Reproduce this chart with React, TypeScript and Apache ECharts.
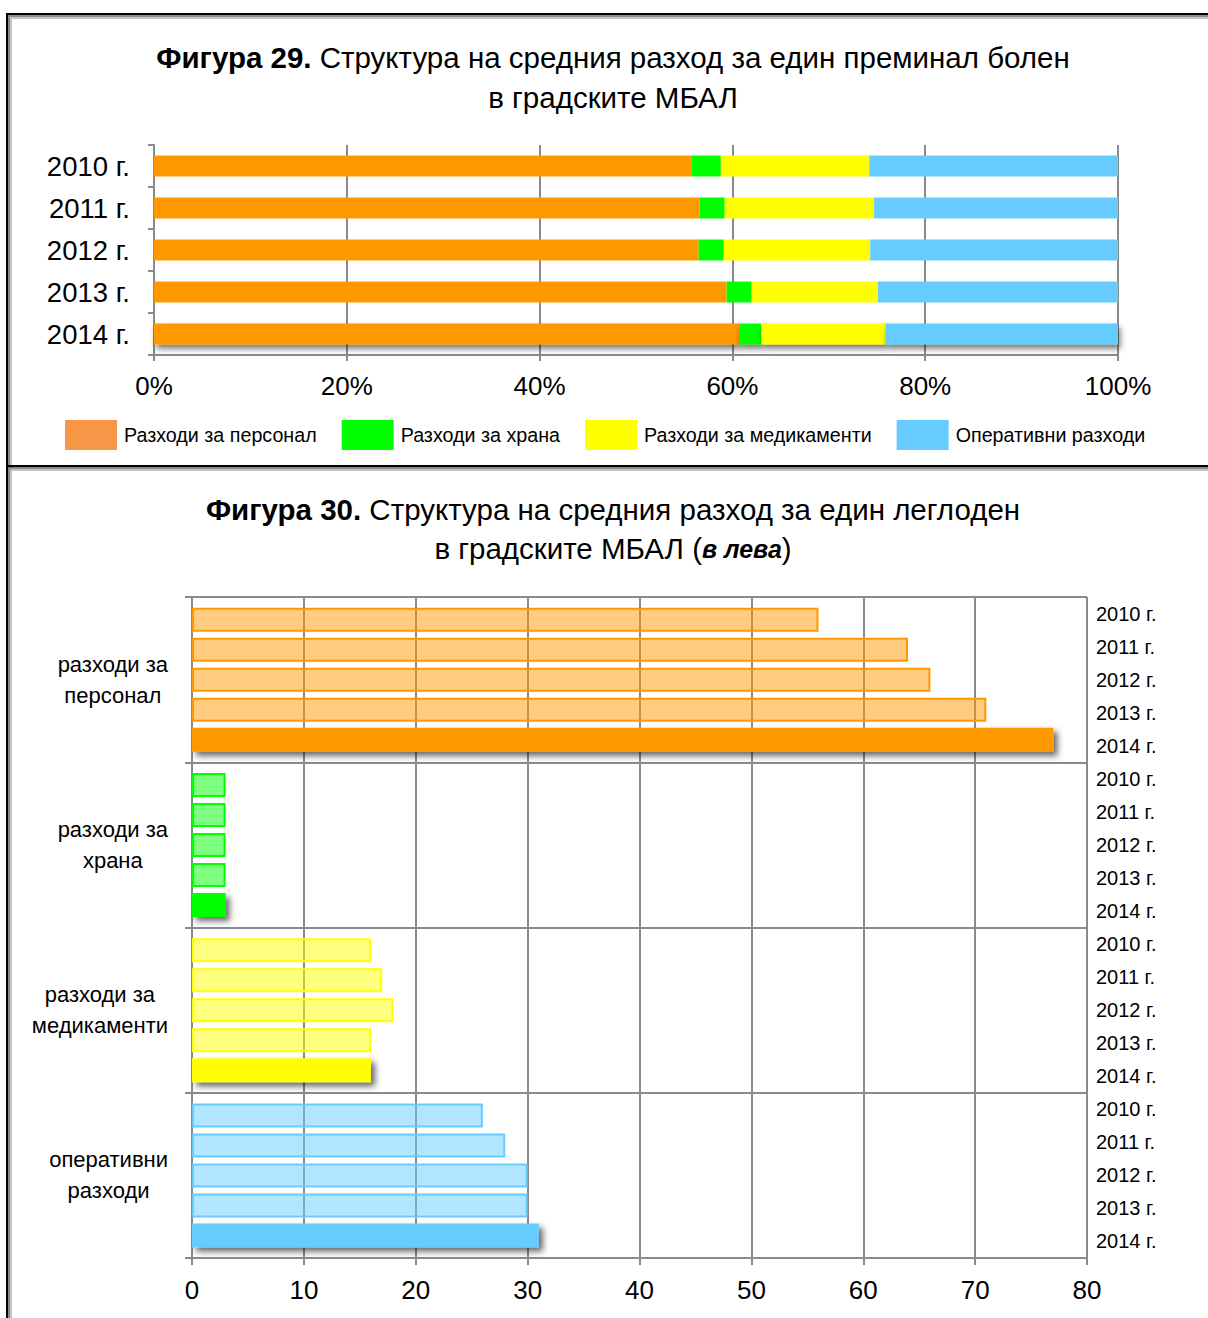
import React, { useEffect, useRef } from 'react';
import * as echarts from 'echarts';

const years = ['2010 г.', '2011 г.', '2012 г.', '2013 г.', '2014 г.'];
const shareNames = ['Разходи за персонал', 'Разходи за храна', 'Разходи за медикаменти', 'Оперативни разходи'];
const sharePersonnel = [55.8, 56.6, 56.5, 59.4, 60.7];
const shareFood = [3.0, 2.6, 2.6, 2.6, 2.3];
const shareMeds = [15.4, 15.5, 15.2, 13.1, 12.9];
const shareOperative = [25.8, 25.3, 25.7, 24.9, 24.1];

const costCategories = ['разходи за\nперсонал', 'разходи за\nхрана', 'разходи за\nмедикаменти', 'оперативни\nразходи'];
const cost2010 = [56, 3, 16, 26];
const cost2011 = [64, 3, 17, 28];
const cost2012 = [66, 3, 18, 30];
const cost2013 = [71, 3, 16, 30];
const cost2014 = [77, 3, 16, 31];

const fullColors = ['#FF9900', '#00FF00', '#FFFF00', '#66CCFF'];
const lightColors = ['rgba(255,153,0,0.5)', 'rgba(0,255,0,0.5)', 'rgba(255,255,0,0.5)', 'rgba(102,204,255,0.5)'];
const legendColors = ['#F79646', '#00FF00', '#FFFF00', '#66CCFF'];

const FONT = 'Arial, "Liberation Sans", sans-serif';
const GRID_GRAY = '#8a8a8a';

export default function App() {
  const ref = useRef<HTMLDivElement>(null);

  useEffect(() => {
    if (!ref.current) return;
    const chart = echarts.init(ref.current, null, { renderer: 'svg' });

    const shareSeries = [sharePersonnel, shareFood, shareMeds, shareOperative];
    const costSeries = [cost2010, cost2011, cost2012, cost2013, cost2014];

    const topSeries = shareSeries.map((vals, si) => ({
      name: shareNames[si],
      type: 'bar',
      stack: 'share',
      xAxisIndex: 0,
      yAxisIndex: 0,
      barWidth: 21,
      itemStyle: { color: fullColors[si] },
      data: vals.map((v, i) =>
        i === vals.length - 1
          ? {
              value: v,
              itemStyle: {
                color: fullColors[si],
                shadowColor: 'rgba(0,0,0,0.55)',
                shadowBlur: 6,
                shadowOffsetX: 2,
                shadowOffsetY: 4,
              },
            }
          : v
      ),
    }));

    const bottomSeries = costSeries.map((vals, yi) => ({
      name: years[yi],
      type: 'bar',
      xAxisIndex: 1,
      yAxisIndex: 1,
      barWidth: 24,
      barGap: '25%',
      data: vals.map((v, ci) =>
        yi === costSeries.length - 1
          ? {
              value: v,
              itemStyle: {
                color: fullColors[ci],
                shadowColor: 'rgba(0,0,0,0.6)',
                shadowBlur: 6,
                shadowOffsetX: 4,
                shadowOffsetY: 4,
              },
            }
          : {
              value: v,
              itemStyle: {
                color: lightColors[ci],
                borderColor: fullColors[ci],
                borderWidth: 2,
              },
            }
      ),
    }));

    const rightLabels: string[] = [];
    costCategories.forEach(() => years.forEach((y) => rightLabels.push(y)));

    const frame = [
      { type: 'rect', shape: { x: 6, y: 13, width: 1210, height: 2 }, style: { fill: '#000' } },
      { type: 'rect', shape: { x: 8, y: 15, width: 1210, height: 2 }, style: { fill: '#8c8c8c' } },
      { type: 'rect', shape: { x: 10, y: 17, width: 1210, height: 2 }, style: { fill: '#c4c4c4' } },
      { type: 'rect', shape: { x: 6, y: 13, width: 2, height: 1310 }, style: { fill: '#000' } },
      { type: 'rect', shape: { x: 8, y: 15, width: 2, height: 1310 }, style: { fill: '#8c8c8c' } },
      { type: 'rect', shape: { x: 10, y: 17, width: 2, height: 1310 }, style: { fill: '#c4c4c4' } },
      { type: 'rect', shape: { x: 6, y: 465, width: 1210, height: 2.5 }, style: { fill: '#000' } },
      { type: 'rect', shape: { x: 8, y: 467.5, width: 1210, height: 2 }, style: { fill: '#8c8c8c' } },
      { type: 'rect', shape: { x: 10, y: 469.5, width: 1210, height: 1.5 }, style: { fill: '#c4c4c4' } },
    ];

    const TS = 29.5;

    chart.setOption({
      animation: false,
      backgroundColor: '#ffffff',
      textStyle: { fontFamily: FONT },
      title: [
        {
          text: '{b|Фигура 29.}{n| Структура на средния разход за един преминал болен}\n{n|в градските МБАЛ}',
          left: 613,
          top: 37,
          padding: 0,
          textAlign: 'center',
          textStyle: {
            fontSize: TS,
            lineHeight: 40,
            color: '#000',
            fontFamily: FONT,
            fontWeight: 'normal',
            rich: {
              b: { fontSize: TS, fontWeight: 'bold', fontFamily: FONT, color: '#000', align: 'center', lineHeight: 40 },
              n: { fontSize: TS, fontFamily: FONT, color: '#000', align: 'center', lineHeight: 40 },
            },
          },
        },
        {
          text: '{b|Фигура 30.}{n| Структура на средния разход за един леглоден}\n{n|в градските МБАЛ (}{i|в лева}{n|)}',
          left: 613,
          top: 490,
          padding: 0,
          textAlign: 'center',
          textStyle: {
            fontSize: TS,
            lineHeight: 39,
            color: '#000',
            fontFamily: FONT,
            fontWeight: 'normal',
            rich: {
              b: { fontSize: TS, fontWeight: 'bold', fontFamily: FONT, color: '#000', align: 'center', lineHeight: 39 },
              n: { fontSize: TS, fontFamily: FONT, color: '#000', align: 'center', lineHeight: 39 },
              i: { fontSize: 25, fontWeight: 'bold', fontStyle: 'italic', fontFamily: FONT, color: '#000', align: 'center', lineHeight: 39 },
            },
          },
        },
      ],
      legend: {
        left: 65,
        top: 420,
        width: 1140,
        itemWidth: 52,
        itemHeight: 30,
        itemGap: 25,
        icon: 'rect',
        selectedMode: false,
        padding: 0,
        textStyle: { fontSize: 19.7, fontFamily: FONT, color: '#000', padding: [0, 0, 0, 2] },
        data: shareNames.map((n, i) => ({ name: n, itemStyle: { color: legendColors[i] } })),
      },
      grid: [
        { left: 154, right: 90, top: 145, height: 210, containLabel: false },
        { left: 192, right: 121, top: 597, height: 661, containLabel: false },
      ],
      xAxis: [
        {
          type: 'value',
          gridIndex: 0,
          min: 0,
          max: 100,
          interval: 20,
          axisLine: { show: true, lineStyle: { color: GRID_GRAY, width: 2 } },
          axisTick: { show: true, length: 6, lineStyle: { color: GRID_GRAY, width: 2 } },
          axisLabel: { formatter: '{value}%', fontSize: 26, color: '#000', margin: 18, fontFamily: FONT },
          splitLine: { show: true, lineStyle: { color: GRID_GRAY, width: 2 } },
        },
        {
          type: 'value',
          gridIndex: 1,
          min: 0,
          max: 80,
          interval: 10,
          axisLine: { show: true, lineStyle: { color: GRID_GRAY, width: 2 } },
          axisTick: { show: true, length: 7, lineStyle: { color: GRID_GRAY, width: 2 } },
          axisLabel: { fontSize: 26, color: '#000', margin: 19, fontFamily: FONT },
          splitLine: { show: true, lineStyle: { color: GRID_GRAY, width: 2 } },
        },
      ],
      yAxis: [
        {
          type: 'category',
          gridIndex: 0,
          inverse: true,
          data: years,
          axisLine: { show: true, lineStyle: { color: GRID_GRAY, width: 2 } },
          axisTick: { show: true, length: 6, lineStyle: { color: GRID_GRAY, width: 2 } },
          axisLabel: { fontSize: 27.5, color: '#000', margin: 24, fontFamily: FONT },
          splitLine: { show: false },
        },
        {
          type: 'category',
          gridIndex: 1,
          inverse: true,
          data: costCategories,
          axisLine: { show: true, lineStyle: { color: GRID_GRAY, width: 2 } },
          axisTick: { show: true, length: 7, lineStyle: { color: GRID_GRAY, width: 2 } },
          axisLabel: {
            fontSize: 22,
            color: '#000',
            margin: 24,
            fontFamily: FONT,
            align: 'right',
            formatter: (v: string) =>
              v
                .split('\n')
                .map((s) => '{c|' + s + '}')
                .join('\n'),
            rich: { c: { align: 'center', fontSize: 22, fontFamily: FONT, color: '#000', lineHeight: 31 } },
          },
          splitLine: { show: true, lineStyle: { color: GRID_GRAY, width: 2 } },
        },
        {
          type: 'category',
          gridIndex: 1,
          inverse: true,
          position: 'right',
          data: rightLabels,
          axisLine: { show: false },
          axisTick: { show: false },
          axisLabel: { interval: 0, fontSize: 20, color: '#000', margin: 9, fontFamily: FONT },
          splitLine: { show: false },
        },
      ],
      series: [...topSeries, ...bottomSeries],
      graphic: frame,
    });

    return () => chart.dispose();
  }, []);

  return (
    <div
      ref={ref}
      style={{ position: 'absolute', left: 0, top: 0, width: 1208, height: 1318, background: '#fff' }}
    />
  );
}
